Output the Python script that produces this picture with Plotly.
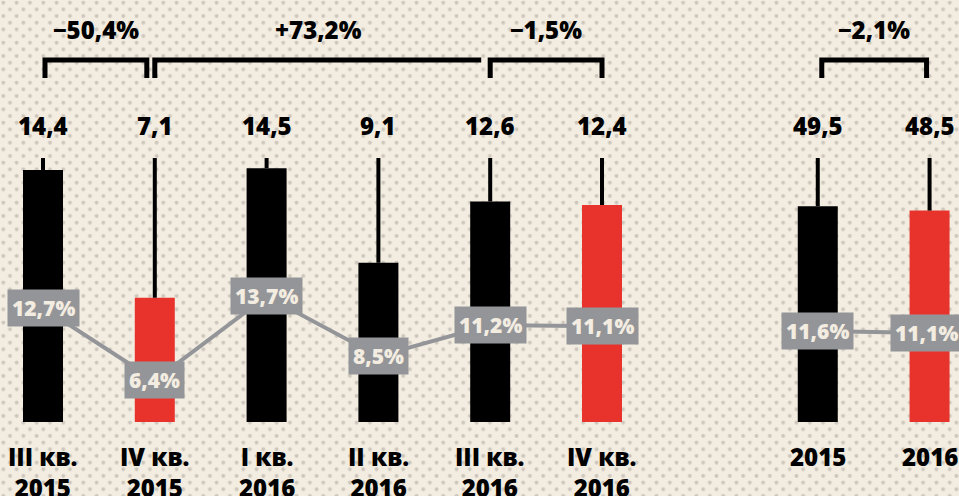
import base64
import plotly.graph_objects as go

# data
QUARTERS = ["III кв.<br>2015", "IV кв.<br>2015", "I кв.<br>2016",
            "II кв.<br>2016", "III кв.<br>2016", "IV кв.<br>2016"]
QUARTER_VALUES = [14.4, 7.1, 14.5, 9.1, 12.6, 12.4]
QUARTER_MARGIN = [12.7, 6.4, 13.7, 8.5, 11.2, 11.1]

YEARS = ["2015", "2016"]
YEAR_VALUES = [49.5, 48.5]
YEAR_MARGIN = [11.6, 11.1]

# bracket changes (index of first bar, index of last bar, label)
CHANGE_FROM = [0, 1, 4, 6]
CHANGE_TO = [1, 4, 5, 7]
CHANGE_TEXT = ["−50,4%", "+73,2%", "−1,5%", "−2,1%"]

# layout constants
W, H = 959, 496
PLOT_H = 422          # plot area height in px (bars sit on its bottom)
PITCH = 111.8         # px between neighbouring bars
FIRST_PX = 43         # px of first bar centre
YEAR_GAP = 0.93
BAR_W = 40 / PITCH

BLACK = "#000000"
RED = "#e8332c"
GREY = "#939598"
CREAM = "#f3ece1"
DOT = "#cec7bd"
FONT = "Open Sans"


def py(px):
    # pixel row (from top of page) -> paper y
    return (PLOT_H - px) / PLOT_H


def fmt(v):
    return f"{v:.1f}".replace(".", ",")


qx = list(range(len(QUARTERS)))
yx = [len(QUARTERS) + YEAR_GAP + i for i in range(len(YEARS))]
all_x = qx + yx

q_colors = [RED if q.startswith("IV") else BLACK for q in QUARTERS]
y_colors = [BLACK, RED]

# axis ranges chosen so that px-per-unit matches the reference
q_max = PLOT_H / 17.5
a_max = PLOT_H / 4.36
qm_lo = 10.6 - 90 / 11.5
qm_hi = qm_lo + PLOT_H / 11.5
am_lo = 11.6 - 91 / 4.0
am_hi = am_lo + PLOT_H / 4.0
leader = py(158)

fig = go.Figure()

fig.add_trace(go.Bar(
    x=qx, y=QUARTER_VALUES, width=BAR_W, marker=dict(color=q_colors, line=dict(width=0)),
    error_y=dict(type="data", symmetric=False,
                 array=[leader * q_max - v for v in QUARTER_VALUES],
                 arrayminus=[0] * len(QUARTER_VALUES),
                 thickness=4, width=0, color=BLACK),
    yaxis="y", hoverinfo="skip", showlegend=False,
))
fig.add_trace(go.Bar(
    x=yx, y=YEAR_VALUES, width=BAR_W, marker=dict(color=y_colors, line=dict(width=0)),
    error_y=dict(type="data", symmetric=False,
                 array=[leader * a_max - v for v in YEAR_VALUES],
                 arrayminus=[0] * len(YEAR_VALUES),
                 thickness=4, width=0, color=BLACK),
    yaxis="y2", hoverinfo="skip", showlegend=False,
))
fig.add_trace(go.Scatter(
    x=qx, y=QUARTER_MARGIN, mode="lines", line=dict(color=GREY, width=4),
    yaxis="y3", hoverinfo="skip", showlegend=False,
))
fig.add_trace(go.Scatter(
    x=yx, y=YEAR_MARGIN, mode="lines", line=dict(color=GREY, width=4),
    yaxis="y4", hoverinfo="skip", showlegend=False,
))

ann = []
values = QUARTER_VALUES + YEAR_VALUES
for x, v in zip(all_x, values):
    ann.append(dict(x=x, y=py(126), xref="x", yref="paper", text=fmt(v),
                    showarrow=False, yanchor="middle",
                    font=dict(family=FONT, size=24, color=BLACK, weight=800)))

for x, lab in zip(all_x, QUARTERS + YEARS):
    ann.append(dict(x=x, y=py(438), xref="x", yref="paper", text=lab,
                    showarrow=False, yanchor="top", align="center",
                    font=dict(family=FONT, size=24, color=BLACK, weight=800)))

for xs, ms, ref in ((qx, QUARTER_MARGIN, "y3"), (yx, YEAR_MARGIN, "y4")):
    for x, m in zip(xs, ms):
        ann.append(dict(x=x, y=m, xref="x", yref=ref, text=fmt(m) + "%",
                        showarrow=False, bgcolor=GREY, borderpad=4,
                        xshift=-3 if x == all_x[-1] else 0,
                        font=dict(family=FONT, size=21, color=CREAM, weight=800)))

# brackets
shapes = []
inset_l = [2, 0, 0, 4]
inset_r = [8, 9, 0, 3]
right_leg = [True, False, True, True]
top, bot = py(60), py(78)
for a, b, txt, il, ir, rl in zip(CHANGE_FROM, CHANGE_TO, CHANGE_TEXT, inset_l, inset_r, right_leg):
    x0 = all_x[a] + il / PITCH
    x1 = all_x[b] - ir / PITCH
    path = f"M {x0},{bot} L {x0},{top} L {x1},{top}"
    if rl:
        path += f" L {x1},{bot}"
    shapes.append(dict(type="path", path=path, xref="x", yref="paper",
                       line=dict(color=BLACK, width=5)))
    ann.append(dict(x=(x0 + x1) / 2, y=py(30), xref="x", yref="paper", text=txt,
                    showarrow=False, yanchor="middle",
                    font=dict(family=FONT, size=24, color=BLACK, weight=800)))

# dotted paper background
svg = (f'<svg xmlns="http://www.w3.org/2000/svg" width="{W}" height="{H}">'
       f'<defs><pattern id="p" width="13.33" height="13.33" patternUnits="userSpaceOnUse">'
       f'<circle cx="3.33" cy="2.67" r="2" fill="{DOT}"/>'
       f'<circle cx="10" cy="9.33" r="2" fill="{DOT}"/></pattern></defs>'
       f'<rect width="{W}" height="{H}" fill="{CREAM}"/>'
       f'<rect width="{W}" height="{H}" fill="url(#p)"/></svg>')
bg = "data:image/svg+xml;base64," + base64.b64encode(svg.encode()).decode()

hidden = dict(visible=False, fixedrange=True)
fig.update_layout(
    width=W, height=H,
    margin=dict(l=0, r=0, t=0, b=H - PLOT_H),
    paper_bgcolor=CREAM, plot_bgcolor="rgba(0,0,0,0)",
    xaxis=dict(range=[-FIRST_PX / PITCH, (W - FIRST_PX) / PITCH], **hidden),
    yaxis=dict(range=[0, q_max], **hidden),
    yaxis2=dict(range=[0, a_max], overlaying="y", **hidden),
    yaxis3=dict(range=[qm_lo, qm_hi], overlaying="y", **hidden),
    yaxis4=dict(range=[am_lo, am_hi], overlaying="y", **hidden),
    barmode="overlay",
    annotations=ann,
    shapes=shapes,
    images=[dict(source=bg, xref="paper", yref="paper", x=0, y=1,
                 sizex=1, sizey=H / PLOT_H, xanchor="left", yanchor="top",
                 sizing="stretch", layer="below")],
    showlegend=False,
)

fig.write_html("out.html", config=dict(displayModeBar=False),
               post_script="document.body.style.margin='0';document.body.style.overflow='hidden';")
